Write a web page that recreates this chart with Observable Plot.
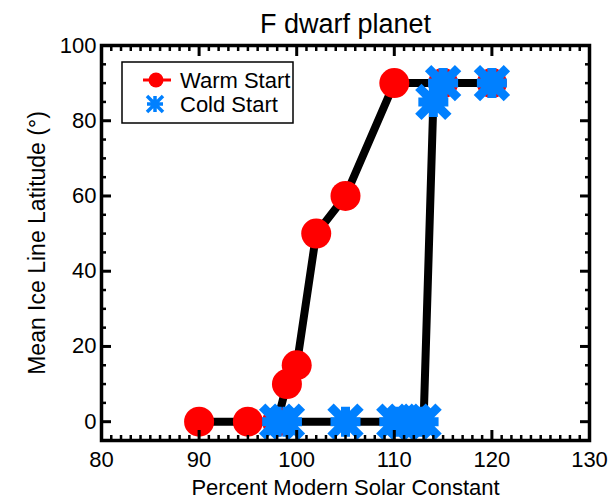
<!DOCTYPE html>
<html>
<head>
<meta charset="utf-8">
<script src="https://cdn.jsdelivr.net/npm/d3@7"></script>
<script src="https://cdn.jsdelivr.net/npm/@observablehq/plot@0.6"></script>
<style>
  html, body { margin: 0; padding: 0; background: #ffffff; }
  #chart { width: 611px; height: 501px; }
</style>
</head>
<body>
<div id="chart"></div>
<script>
// ---- data ----
const titleText = "F dwarf planet";
const xLabel = "Percent Modern Solar Constant";
const yLabel = "Mean Ice Line Latitude (°)";
const seriesNames = ["Warm Start", "Cold Start"];

const warmX = [90, 95, 98, 99, 100, 102, 105, 110, 115, 120];
const warmY = [0, 0, 0, 10, 15, 50, 60, 90, 90, 90];
const coldX = [98, 99, 105, 110, 111, 112, 113, 114, 115, 120];
const coldY = [0, 0, 0, 0, 0, 0, 0, 85, 90, 90];

const xMajor = [80, 90, 100, 110, 120, 130];
const xMinor = d3.range(80, 131, 1).filter(v => v % 10 !== 0);
const yMajor = [0, 20, 40, 60, 80, 100];
const yMinor = d3.range(-5, 101, 5).filter(v => v % 20 !== 0);
const xDomain = [80, 130];
const yDomain = [-5, 100];

// ---- build ----
const warm = warmX.map((x, i) => ({x, y: warmY[i]}));
const cold = coldX.map((x, i) => ({x, y: coldY[i]}));

const RED = "#ff0000";
const BLUE = "#0080ff";
const FONT = "'Liberation Sans', Arial, Helvetica, sans-serif";

const asterisk = {
  draw(ctx, size) {
    const a = Math.sqrt(size / Math.PI);
    ctx.moveTo(-a, -a); ctx.lineTo(a, a);
    ctx.moveTo(-a, a); ctx.lineTo(a, -a);
    ctx.moveTo(-a, 0); ctx.lineTo(a, 0);
    ctx.moveTo(0, -a); ctx.lineTo(0, a);
  }
};

const tickOpts = {fill: "none", label: null};

const chart = Plot.plot({
  width: 611,
  height: 501,
  marginLeft: 101,
  marginRight: 22,
  marginTop: 45,
  marginBottom: 61,
  style: {fontFamily: FONT, fontSize: "22px", background: "#ffffff", color: "#000000"},
  x: {domain: xDomain},
  y: {domain: yDomain},
  marks: [
    // data
    Plot.line(warm, {x: "x", y: "y", stroke: "#000", strokeWidth: 8, strokeLinejoin: "miter", strokeLinecap: "butt"}),
    Plot.dot(warm, {x: "x", y: "y", r: 15, fill: RED, stroke: "none"}),
    Plot.line(cold, {x: "x", y: "y", stroke: "#000", strokeWidth: 8, strokeLinejoin: "miter", strokeLinecap: "butt"}),
    Plot.dot(cold, {x: "x", y: "y", r: 15, symbol: asterisk, fill: "none", stroke: BLUE, strokeWidth: 9}),
    // box + inward ticks
    Plot.frame({stroke: "#000", strokeWidth: 3.5}),
    Plot.axisX(xMajor, {anchor: "bottom", tickSize: -10, strokeWidth: 3, ...tickOpts}),
    Plot.axisX(xMajor, {anchor: "top", tickSize: -10, strokeWidth: 3, ...tickOpts}),
    Plot.axisX(xMinor, {anchor: "bottom", tickSize: -5, strokeWidth: 2.5, ...tickOpts}),
    Plot.axisX(xMinor, {anchor: "top", tickSize: -5, strokeWidth: 2.5, ...tickOpts}),
    Plot.axisY(yMajor, {anchor: "left", tickSize: -10, strokeWidth: 3, ...tickOpts}),
    Plot.axisY(yMajor, {anchor: "right", tickSize: -10, strokeWidth: 3, ...tickOpts}),
    Plot.axisY(yMinor, {anchor: "left", tickSize: -5, strokeWidth: 2.5, ...tickOpts}),
    Plot.axisY(yMinor, {anchor: "right", tickSize: -5, strokeWidth: 2.5, ...tickOpts}),
    // tick labels
    Plot.axisX(xMajor, {anchor: "bottom", tickSize: 0, tickPadding: 11, fontSize: 22, label: null}),
    Plot.axisY(yMajor, {anchor: "left", tickSize: 0, tickPadding: 5, fontSize: 22, label: null}),
    // titles
    Plot.text([titleText], {frameAnchor: "top", dy: -21, lineAnchor: "middle", fontSize: 27, text: d => d}),
    Plot.text([xLabel], {frameAnchor: "bottom", dy: 47, lineAnchor: "middle", fontSize: 22, text: d => d}),
    Plot.text([yLabel], {frameAnchor: "left", dx: -64, rotate: -90, textAnchor: "middle", lineAnchor: "middle", fontSize: 23, text: d => d})
  ]
});

document.getElementById("chart").appendChild(chart);

// ---- legend (decoration) ----
const svg = d3.select(chart);
const lg = svg.append("g").attr("font-family", FONT).attr("font-size", 22).attr("text-anchor", "start");
lg.append("rect").attr("x", 122).attr("y", 62).attr("width", 171).attr("height", 61)
  .attr("fill", "#fff").attr("stroke", "#000").attr("stroke-width", 1.5);
const entryY = [80, 104];
// warm
lg.append("line").attr("x1", 143).attr("x2", 171).attr("y1", entryY[0]).attr("y2", entryY[0])
  .attr("stroke", RED).attr("stroke-width", 3);
lg.append("circle").attr("cx", 156).attr("cy", entryY[0]).attr("r", 7.5).attr("fill", RED);
// cold
const a = 8;
lg.append("path")
  .attr("d", `M${-a},${-a}L${a},${a}M${-a},${a}L${a},${-a}M${-a},0L${a},0M0,${-a}L0,${a}`)
  .attr("transform", `translate(155,${entryY[1]})`)
  .attr("stroke", BLUE).attr("stroke-width", 3.5).attr("fill", "none");
seriesNames.forEach((s, i) => {
  lg.append("text").attr("x", 180).attr("y", entryY[i]).attr("dy", "0.35em")
    .attr("text-anchor", "start").attr("fill", "#000").text(s);
});
</script>
</body>
</html>
